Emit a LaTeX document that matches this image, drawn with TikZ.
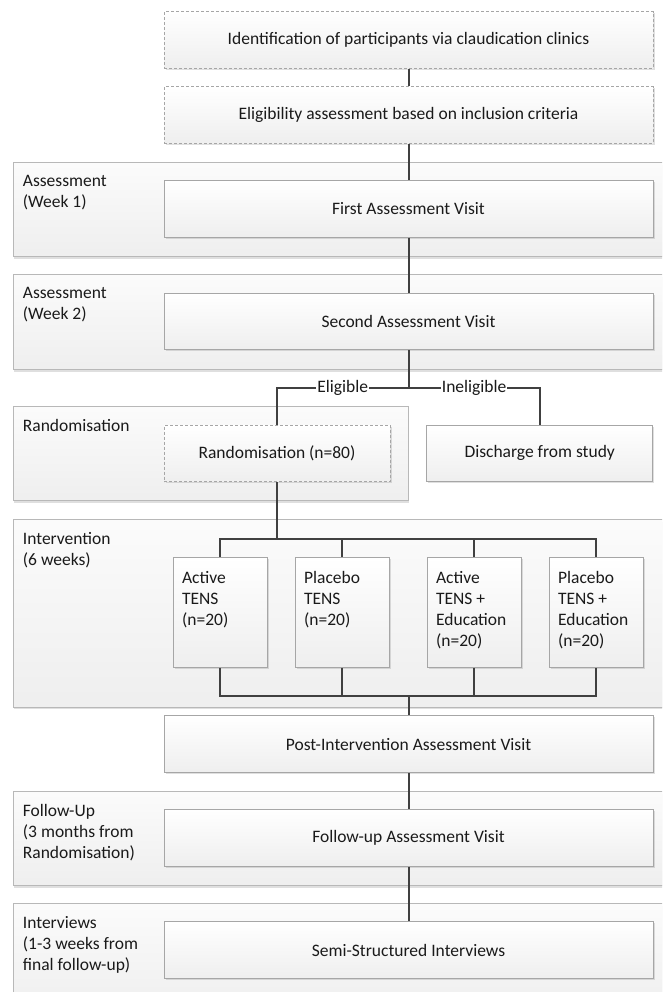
\documentclass[tikz,border=0pt]{standalone}
\usepackage{fontspec}
\setmainfont{Carlito}
\usetikzlibrary{shadows}

\definecolor{linegray}{HTML}{404040}
\definecolor{boxline}{HTML}{A6A6A6}
\definecolor{panelline}{HTML}{B8B8B8}
\definecolor{txt}{HTML}{1A1A1A}

\tikzset{
  every node/.style={font=\fontsize{17.5}{21}\selectfont, text=txt},
  panel/.style={draw=panelline, line width=1pt, top color=gray!3, bottom color=gray!13,
    anchor=north west, inner sep=0pt,
    drop shadow={shadow xshift=0pt, shadow yshift=-2pt, opacity=0.25, fill=gray}},
  phase/.style={anchor=north west, align=left, inner sep=0pt, xshift=9.4pt, yshift=-13pt},
  stage/.style={draw=boxline, line width=1pt, top color=white, bottom color=gray!13,
    inner sep=0pt, minimum width=489pt, minimum height=56.5pt,
    drop shadow={shadow xshift=1.5pt, shadow yshift=-1.5pt, opacity=0.25, fill=gray}},
  prelim/.style={stage, dash pattern=on 3pt off 2pt},
  arm/.style={stage, minimum width=94pt, minimum height=110pt},
  link/.style={draw=linegray, line width=2pt},
  tag/.style={fill=white, inner sep=1pt},
}

\begin{document}
\begin{tikzpicture}[x=1pt, y=-1pt]
  \useasboundingbox (0,0) rectangle (662,992);
  \clip (0,0) rectangle (662,992);

  % phase panels
  \node[panel, minimum width=670pt, minimum height=93.7pt,
    label={[phase]north west:{Assessment\\(Week 1)}}] (p1) at (13.3,162.3) {};
  \node[panel, minimum width=670pt, minimum height=95pt,
    label={[phase]north west:{Assessment\\(Week 2)}}] (p2) at (13.3,274) {};
  \node[panel, minimum width=395pt, minimum height=94pt,
    label={[phase]north west:{Randomisation}}] (p3) at (13.3,406) {};
  \node[panel, minimum width=670pt, minimum height=187.7pt,
    label={[phase]north west:{Intervention\\(6 weeks)}}] (p4) at (13.3,519) {};
  \node[panel, minimum width=670pt, minimum height=94pt,
    label={[phase]north west:{Follow-Up\\(3 months from\\Randomisation)}}] (p5) at (13.3,791) {};
  \node[panel, minimum width=670pt, minimum height=110pt,
    label={[phase]north west:{Interviews\\(1-3 weeks from\\final follow-up)}}] (p6) at (13.3,903) {};

  % boxes
  \node[prelim] (ident) at (408.5,40) {Identification of participants via claudication clinics};
  \node[prelim] (elig) at (408.5,115) {Eligibility assessment based on inclusion criteria};
  \node[stage] (visit1) at (408.5,209) {First Assessment Visit};
  \node[stage] (visit2) at (408.5,321.3) {Second Assessment Visit};
  \node[prelim, minimum width=226pt] (rand) at (277,453.3) {Randomisation (n=80)};
  \node[stage, minimum width=226pt] (disch) at (539.7,453.3) {Discharge from study};

  \node[arm, label={[phase, yshift=-1pt]north west:{Active\\TENS\\(n=20)}}] (arm1) at (220,612.3) {};
  \node[arm, label={[phase, yshift=-1pt]north west:{Placebo\\TENS\\(n=20)}}] (arm2) at (342,612.3) {};
  \node[arm, label={[phase, yshift=-1pt]north west:{Active\\TENS +\\Education\\(n=20)}}] (arm3) at (474,612.3) {};
  \node[arm, label={[phase, yshift=-1pt]north west:{Placebo\\TENS +\\Education\\(n=20)}}] (arm4) at (596,612.3) {};

  \node[stage] (post) at (408.5,744.2) {Post-Intervention Assessment Visit};
  \node[stage] (fup) at (408.5,838) {Follow-up Assessment Visit};
  \node[stage] (semi) at (408.5,950.2) {Semi-Structured Interviews};

  % connectors
  \coordinate (split) at (408.5,387.7);
  \coordinate (bus1) at (277,539);
  \coordinate (bus2) at (408.5,696);

  \draw[link] (ident) -- (elig);
  \draw[link] (elig) -- (visit1);
  \draw[link] (visit1) -- (visit2);
  \draw[link] (visit2) -- (split);
  \draw[link] (split) -| node[tag, pos=0.25] {Eligible} (rand);
  \draw[link] (split) -| node[tag, pos=0.25] {Ineligible} (disch);

  \draw[link] (rand) -- (bus1);
  \draw[link] (arm1) |- (arm4 |- bus1) -- (arm4);
  \draw[link] (arm2) -- (arm2 |- bus1);
  \draw[link] (arm3) -- (arm3 |- bus1);

  \draw[link] (arm1) |- (arm4 |- bus2) -- (arm4);
  \draw[link] (arm2) -- (arm2 |- bus2);
  \draw[link] (arm3) -- (arm3 |- bus2);
  \draw[link] (bus2) -- (post);

  \draw[link] (post) -- (fup);
  \draw[link] (fup) -- (semi);
\end{tikzpicture}
\end{document}
